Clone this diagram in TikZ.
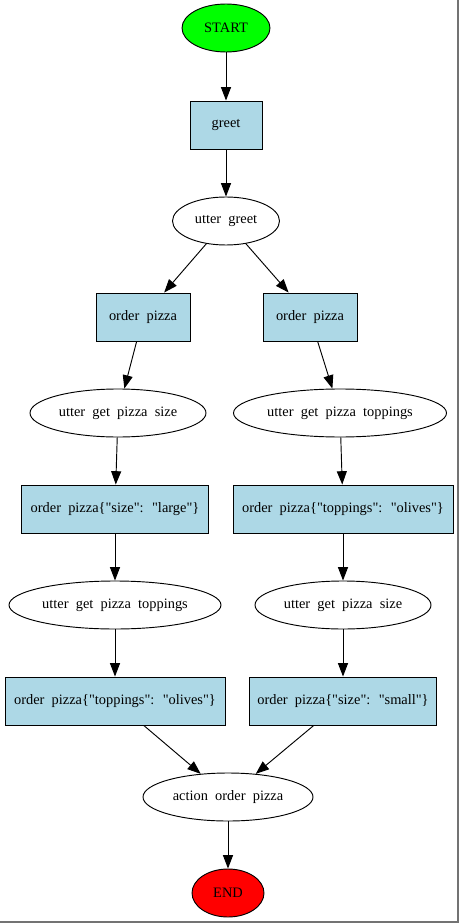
\documentclass[tikz,border=0pt]{standalone}
\usepackage{fontspec}
\setmainfont[WordSpace=2,Ligatures=TeXOff]{Liberation Serif}
\usetikzlibrary{shapes.geometric,arrows.meta}
\definecolor{lightblue}{HTML}{ADD8E6}

\tikzstyle{utter}=[ellipse,draw,line width=0.7pt,minimum height=36pt,inner sep=0pt,font=\fontsize{10.8}{12}\selectfont]
\tikzstyle{action} = [rectangle,draw,fill=lightblue,line width=0.7pt,minimum height=36pt,inner sep=0pt,font=\fontsize{10.8}{12}\selectfont]
\tikzstyle{edge} = [draw,line width=0.7pt,-{Triangle[length=10pt,width=7.5pt]}]
\tikzstyle{frame} = [draw,line width=1.2pt,black!55]

\begin{document}
\begin{tikzpicture}[x=0.75pt,y=-0.75pt]
    \useasboundingbox (0,0) rectangle (459,923);
    \path[frame] (458,0) -- (458,922) -- (0,922);
    \node[utter,fill=green,minimum width=66pt] (start) at (226,28) {START};
    \node[utter,fill=red,minimum width=54pt] (finish) at (228,893) {END};
    \foreach \pos/\name/\w/\txt in {{(226,125)/greet/72/greet},
                            {(143,317)/opL/94/order pizza}, {(310,317)/opR/94/order pizza},
                            {(115,509)/slL/187/order pizza\{"size": "large"\}},
                            {(343,509)/toR/220/order pizza\{"toppings": "olives"\}},
                            {(115,701)/toL/220/order pizza\{"toppings": "olives"\}},
                            {(343,701)/ssR/187/order pizza\{"size": "small"\}}}
        \node[action,minimum width=\w*0.75pt] (\name) at \pos {\txt};
    \foreach \pos/\name/\w/\txt in {{(226,221)/ug/107/utter greet},
                            {(118,413)/usL/176/utter get pizza size}, {(340,413)/utR/213/utter get pizza toppings},
                            {(115,605)/utL/212/utter get pizza toppings}, {(343,605)/usR/176/utter get pizza size},
                            {(228,797)/act/170/action order pizza}}
        \node[utter,minimum width=\w*0.75pt] (\name) at \pos {\txt};
    \foreach \source/ \dest in {start/greet, greet/ug, ug/opL, ug/opR, opL/usL, opR/utR, usL/slL, utR/toR,
                                slL/utL, toR/usR, utL/toL, usR/ssR, toL/act, ssR/act, act/finish}
        \path[edge] (\source) -- (\dest);
\end{tikzpicture}
\end{document}
